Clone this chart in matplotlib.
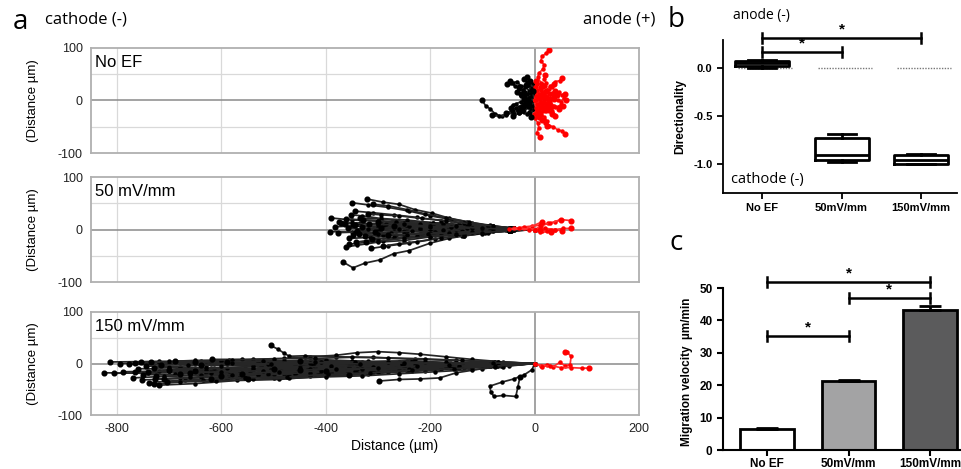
import matplotlib
matplotlib.use('Agg')
import matplotlib.pyplot as plt

plt.rcParams['font.family'] = ['Liberation Sans', 'DejaVu Sans']
plt.rcParams['axes.unicode_minus'] = False

# ---------------- panel a : cell tracks (x, y in um), start at origin ----------------
noef_black = [
    [(0, 0), (-8, -6), (-16, -4), (-22, -14), (-32, -18), (-40, -26), (-52, -24), (-62, -30), (-75, -26), (-85, -16), (-94, -10), (-100, 0)],
    [(0, 0), (-6, 2), (-12, -4), (-20, -6), (-30, -12), (-42, -18), (-55, -28), (-68, -30), (-81, -27)],
    [(0, 0), (-10, -10), (-18, -8), (-28, -16), (-36, -14), (-44, -20), (-55, -24)],
    [(0, 0), (-6, -14), (-12, -12), (-20, -22), (-30, -24), (-41, -30)],
    [(0, 0), (-8, -2), (-14, -8), (-20, -12), (-24, -19)],
    [(0, 0), (-8, 10), (-14, 8), (-22, 20), (-30, 22), (-38, 28), (-46, 34), (-52, 32)],
    [(0, 0), (-4, 14), (-10, 18), (-18, 26), (-26, 28), (-34, 36), (-42, 34), (-48, 38)],
    [(0, 0), (-6, 16), (-4, 22), (-10, 30), (-8, 38), (-14, 44)],
    [(0, 0), (-2, 12), (2, 18), (-5, 26), (-3, 32), (-8, 38)],
    [(0, 0), (-9, 12), (-6, 20), (-16, 29)],
    [(0, 0), (-6, 8), (-12, 6), (-20, 12), (-27, 13)],
    [(0, 0), (-10, -2), (-16, 6), (-20, 3)],
    [(0, 0), (-4, -6), (-8, -4), (-11, -10)],
    [(0, 0), (-6, -2), (-12, -6), (-18, -8), (-24, -13)],
    [(0, 0), (-6, 6), (-14, 12), (-18, 16), (-22, 20), (-30, 25)],
    [(0, 0), (-3, 10), (2, 14), (-4, 19)],
    [(0, 0), (-8, 4), (-10, -4), (-14, 0)],
    [(0, 0), (-6, -18), (-10, -22), (-15, -26), (-22, -20), (-30, -22)],
    [(0, 0), (-8, 2), (-18, -2), (-26, -2), (-35, -6), (-42, -8), (-46, -14)],
    [(0, 0), (-5, 22), (0, 26), (-12, 30), (-14, 36), (-20, 40)],
    [(0, 0), (-4, -10), (-2, -18), (-8, -24), (-6, -32)],
    [(0, 0), (-10, 4), (-18, 10), (-26, 8), (-34, 16)],
]
noef_red = [
    [(0, 0), (6, 18), (2, 26), (12, 34), (6, 44), (8, 52), (16, 60), (18, 68), (12, 76), (14, 84), (22, 90), (27, 97)],
    [(0, 0), (12, 10), (18, 12), (28, 22), (34, 26), (40, 36), (48, 38), (53, 43)],
    [(0, 0), (8, 6), (15, 2), (24, 10), (32, 8), (40, 14), (46, 16), (52, 10), (58, 13)],
    [(0, 0), (10, 2), (18, -4), (26, 2), (36, 4), (44, 0), (50, -2), (56, 4), (60, 0)],
    [(0, 0), (14, -6), (22, -2), (30, -4), (38, -10), (44, -12), (50, -8), (54, -10)],
    [(0, 0), (4, -18), (-2, -26), (0, -34), (6, -42), (8, -52), (4, -62), (11, -70)],
    [(0, 0), (10, -14), (12, -24), (18, -32), (24, -40), (28, -48), (36, -50), (44, -56), (52, -58), (59, -64)],
    [(0, 0), (10, 12), (16, 14), (24, 20), (30, 28), (37, 32)],
    [(0, 0), (8, 4), (16, 6), (22, 2), (30, 4), (36, 10), (43, 10)],
    [(0, 0), (8, -4), (14, -8), (22, -6), (32, -10), (40, -12), (46, -16)],
    [(0, 0), (12, -12), (16, -16), (22, -20), (28, -20), (34, -25)],
    [(0, 0), (6, -16), (4, -22), (10, -28), (12, -34), (15, -38)],
    [(0, 0), (10, -22), (12, -28), (18, -36), (20, -42), (24, -48)],
    [(0, 0), (8, 8), (10, 12), (14, 14), (18, 14), (21, 19)],
    [(0, 0), (4, 4), (6, 2), (8, 6)],
    [(0, 0), (6, 4), (12, 2), (16, -2), (20, -4), (27, -3)],
    [(0, 0), (10, 2), (18, 6), (24, 4), (30, 0), (37, 3)],
    [(0, 0), (6, -8), (10, -10), (12, -14), (18, -19)],
    [(0, 0), (4, 14), (6, 20), (1, 26), (4, 32), (2, 38)],
    [(0, 0), (6, 6), (14, 10), (20, 8), (28, 14), (34, 14), (40, 19)],
    [(0, 0), (10, -6), (16, -4), (22, -8), (26, -12), (31, -13)],
    [(0, 0), (2, -14), (6, -18), (6, -24), (4, -28), (8, -32)],
    [(0, 0), (8, 16), (12, 20), (16, 26), (20, 28), (22, 34), (18, 40), (20, 48)],
    [(0, 0), (10, -8), (20, -14), (26, -16), (34, -20), (36, -26), (40, -30)],
    [(0, 0), (6, 6), (10, 2), (14, -2), (18, 2), (20, 6)],
    [(0, 0), (4, -6), (10, -4), (14, -10), (20, -12), (24, -8)],
    [(0, 0), (2, 8), (8, 12), (12, 20), (10, 26), (14, 30)],
]

ef50_black = [
    [(0, 0), (-50, 0), (-100, 3), (-150, 2), (-200, 8), (-250, 10), (-300, 16), (-350, 18), (-390, 22)],
    [(0, 0), (-50, -2), (-100, 0), (-150, -3), (-200, -1), (-250, -4), (-300, -2), (-350, -5), (-392, -4)],
    [(0, 0), (-50, 2), (-100, 0), (-150, 4), (-200, 3), (-250, 6), (-300, 4), (-350, 7), (-383, 5)],
    [(0, 0), (-45, -1), (-95, -3), (-145, -2), (-195, -5), (-245, -4), (-295, -7), (-345, -5), (-377, -6)],
    [(0, 0), (-50, 1), (-100, 4), (-150, 5), (-200, 8), (-250, 9), (-300, 12), (-340, 11), (-371, 13)],
    [(0, 0), (-45, 2), (-95, 2), (-145, 6), (-195, 6), (-245, 9), (-295, 9), (-335, 12), (-364, 11)],
    [(0, 0), (-45, 3), (-95, 5), (-145, 10), (-195, 13), (-245, 18), (-295, 21), (-330, 26), (-352, 28)],
    [(0, 0), (-40, 2), (-80, 6), (-120, 12), (-160, 19), (-200, 26), (-240, 35), (-280, 42), (-320, 47), (-350, 51)],
    [(0, 0), (-40, 3), (-80, 6), (-130, 15), (-165, 22), (-196, 31), (-230, 38), (-260, 48), (-290, 52), (-321, 58)],
    [(0, 0), (-40, 2), (-85, 8), (-125, 14), (-170, 22), (-210, 30), (-245, 38), (-280, 45), (-310, 48)],
    [(0, 0), (-50, -3), (-100, -5), (-150, -11), (-200, -14), (-250, -21), (-300, -24), (-340, -30), (-361, -33)],
    [(0, 0), (-50, -2), (-100, -8), (-135, -12), (-164, -17), (-200, -26), (-240, -40), (-270, -46), (-297, -58), (-325, -64), (-348, -73), (-367, -62)],
    [(0, 0), (-45, -2), (-95, -7), (-140, -12), (-190, -18), (-240, -26), (-280, -31), (-313, -36)],
    [(0, 0), (-45, -3), (-90, -6), (-135, -12), (-180, -16), (-225, -23), (-260, -27), (-291, -32)],
    [(0, 0), (-50, -1), (-100, -5), (-150, -8), (-200, -13), (-250, -16), (-290, -21), (-323, -24)],
    [(0, 0), (-50, -2), (-100, -3), (-150, -8), (-200, -10), (-250, -15), (-300, -18), (-342, -24)],
    [(0, 0), (-55, 0), (-110, -4), (-160, -5), (-215, -9), (-265, -11), (-315, -15), (-355, -17)],
    [(0, 0), (-50, 1), (-100, -2), (-150, 0), (-200, -4), (-250, -3), (-300, -7), (-336, -8)],
    [(0, 0), (-50, 0), (-100, 4), (-150, 5), (-200, 10), (-250, 12), (-295, 16), (-329, 18)],
    [(0, 0), (-50, 2), (-100, 1), (-150, 5), (-200, 4), (-250, 7), (-300, 6), (-345, 8)],
    [(0, 0), (-50, -1), (-100, 1), (-150, -1), (-200, 1), (-250, -2), (-300, 0), (-340, -2)],
    [(0, 0), (-45, 1), (-95, 3), (-145, 2), (-195, 5), (-245, 3), (-290, 6), (-330, 5)],
    [(0, 0), (-55, 1), (-110, -1), (-165, 2), (-220, 0), (-270, 3), (-320, 1), (-358, 2)],
    [(0, 0), (-45, -2), (-95, -3), (-145, -6), (-195, -7), (-245, -10), (-290, -10), (-325, -12)],
    [(0, 0), (-45, 1), (-95, 4), (-145, 4), (-195, 7), (-245, 8), (-285, 10), (-318, 10)],
    [(0, 0), (-45, 0), (-95, -3), (-140, -2), (-190, -5), (-235, -3), (-275, -6), (-305, -5)],
    [(0, 0), (-50, -2), (-100, -2), (-150, -6), (-200, -6), (-250, -9), (-300, -8), (-348, -10)],
    [(0, 0), (-45, 2), (-95, 5), (-145, 8), (-195, 13), (-245, 15), (-295, 20), (-335, 22)],
    [(0, 0), (-50, 1), (-100, 5), (-150, 7), (-200, 11), (-250, 13), (-300, 17), (-362, 20)],
    [(0, 0), (-40, 2), (-85, 5), (-130, 6), (-175, 10), (-220, 11), (-265, 14), (-300, 15)],
    [(0, 0), (-45, -3), (-90, -4), (-135, -8), (-180, -10), (-225, -13), (-270, -15), (-312, -18)],
    [(0, 0), (-40, 1), (-85, -1), (-130, 2), (-175, 0), (-220, 3), (-260, 1), (-295, 2)],
    [(0, 0), (-40, -1), (-80, -3), (-120, -4), (-165, -7), (-205, -8), (-245, -10), (-280, -10)],
    [(0, 0), (-40, 0), (-80, 3), (-120, 2), (-160, 5), (-200, 4), (-240, 7), (-270, 6)],
    [(0, 0), (-45, 3), (-90, 6), (-135, 12), (-180, 17), (-225, 23), (-270, 28), (-310, 32), (-345, 35)],
    [(0, 0), (-40, 2), (-80, 7), (-125, 11), (-170, 17), (-215, 21), (-260, 26), (-295, 28), (-320, 30)],
    [(0, 0), (-50, -2), (-100, -6), (-150, -9), (-200, -14), (-250, -17), (-300, -22), (-355, -28)],
    [(0, 0), (-50, 1), (-100, 2), (-150, 6), (-200, 6), (-250, 10), (-300, 9), (-350, 13), (-375, 15)],
]
ef50_red = [
    [(0, 0), (12, 6), (25, 12), (40, 14), (50, 19), (69, 17)],
    [(0, 0), (-20, 3), (-5, 6), (15, 15)],
    [(0, 0), (-40, 2), (-20, 5), (10, 8), (30, 12), (50, 19)],
    [(0, 0), (15, -2), (31, -3)],
    [(0, 0), (20, -1), (40, 0), (53, -3)],
    [(0, 0), (20, 2), (40, 0), (55, 2), (69, 2)],
    [(0, 0), (-50, 1), (-30, 3), (-10, 0), (11, 0)],
    [(0, 0), (10, -4), (24, -3), (31, -5)],
]

ef150_black = [
    [(0, 0), (-90, -3), (-180, -1), (-270, -4), (-360, -1), (-450, 1), (-540, -1), (-630, 3), (-720, 4), (-814, 3)],
    [(0, 0), (-95, -5), (-190, -7), (-290, -11), (-380, -10), (-480, -14), (-570, -13), (-660, -17), (-750, -19), (-826, -18)],
    [(0, 0), (-90, -2), (-185, -8), (-280, -7), (-375, -12), (-470, -11), (-565, -15), (-650, -14), (-740, -18), (-806, -19)],
    [(0, 0), (-85, -4), (-175, -1), (-265, -5), (-360, -2), (-450, -4), (-540, 0), (-630, -2), (-720, 1), (-795, 0)],
    [(0, 0), (-90, 0), (-180, -4), (-275, -2), (-370, -5), (-460, -2), (-555, -4), (-650, 0), (-715, -3), (-778, -1)],
    [(0, 0), (-80, -2), (-170, 1), (-260, -3), (-350, 0), (-440, -2), (-530, 2), (-620, 0), (-700, 3), (-766, 1)],
    [(0, 0), (-88, -2), (-180, -6), (-270, -5), (-360, -9), (-455, -8), (-545, -12), (-640, -11), (-720, -15), (-789, -16)],
    [(0, 0), (-85, -4), (-170, -4), (-260, -9), (-350, -8), (-440, -12), (-530, -11), (-620, -15), (-700, -14), (-766, -17)],
    [(0, 0), (-80, -3), (-165, -7), (-255, -8), (-345, -12), (-435, -13), (-520, -17), (-610, -17), (-690, -21), (-750, -22)],
    [(0, 0), (-75, -6), (-160, -9), (-245, -15), (-330, -17), (-420, -23), (-505, -25), (-590, -31), (-670, -32), (-738, -37)],
    [(0, 0), (-70, -4), (-150, -11), (-235, -14), (-320, -21), (-400, -24), (-490, -31), (-570, -33), (-650, -39), (-719, -42)],
    [(0, 0), (-78, -5), (-160, -8), (-245, -13), (-330, -16), (-420, -20), (-510, -22), (-600, -27), (-680, -29), (-753, -32)],
    [(0, 0), (-85, -1), (-175, -5), (-265, -5), (-355, -9), (-450, -9), (-540, -12), (-630, -12), (-700, -15), (-741, -16)],
    [(0, 0), (-80, -3), (-165, -2), (-255, -6), (-345, -4), (-435, -7), (-525, -5), (-615, -9), (-680, -7), (-730, -8)],
    [(0, 0), (-88, 0), (-175, -3), (-265, -1), (-355, -4), (-445, -2), (-540, -5), (-630, -3), (-700, -6), (-745, -5)],
    [(0, 0), (-78, -2), (-160, -7), (-245, -8), (-330, -13), (-415, -14), (-500, -18), (-590, -19), (-660, -23), (-725, -25)],
    [(0, 0), (-72, -5), (-150, -7), (-230, -12), (-315, -14), (-400, -19), (-480, -21), (-565, -25), (-640, -27), (-710, -30)],
    [(0, 0), (-80, 0), (-165, -4), (-250, -3), (-335, -7), (-420, -6), (-505, -10), (-590, -9), (-650, -12), (-700, -12)],
    [(0, 0), (-78, 3), (-160, 1), (-245, 5), (-330, 3), (-415, 7), (-500, 4), (-585, 7), (-640, 4), (-690, 5)],
    [(0, 0), (-75, -3), (-155, -4), (-235, -9), (-320, -10), (-400, -14), (-485, -15), (-565, -19), (-630, -18), (-680, -20)],
    [(0, 0), (-85, -1), (-175, -4), (-265, -3), (-355, -7), (-450, -6), (-540, -9), (-630, -8), (-700, -11), (-760, -10)],
    [(0, 0), (-82, 2), (-170, 0), (-260, 3), (-350, 1), (-440, 4), (-530, 2), (-620, 4), (-690, 2), (-735, 3)],
    [(0, 0), (-80, -2), (-165, 1), (-250, -2), (-340, 0), (-425, -3), (-510, -1), (-600, -4), (-665, -2), (-715, -3)],
    [(0, 0), (-70, -3), (-145, -9), (-225, -11), (-310, -17), (-390, -19), (-470, -25), (-555, -27), (-635, -32), (-705, -35)],
    [(0, 0), (-90, -4), (-180, -6), (-270, -11), (-360, -12), (-455, -17), (-545, -18), (-640, -23), (-710, -25), (-770, -28)],
    [(0, 0), (-78, -2), (-160, -7), (-245, -9), (-330, -14), (-415, -16), (-500, -21), (-585, -22), (-660, -27), (-728, -30)],
    [(0, 0), (-60, 3), (-120, 8), (-170, 13), (-220, 18), (-260, 21), (-300, 23), (-340, 21), (-380, 16), (-430, 13), (-480, 10), (-540, 8), (-600, 4), (-650, 2)],
    [(0, 0), (-75, 3), (-155, 1), (-235, 5), (-320, 4), (-400, 7), (-480, 5), (-560, 8), (-619, 8)],
    [(0, 0), (-65, -5), (-135, -8), (-210, -14), (-280, -17), (-355, -22), (-430, -24), (-500, -29), (-550, -31)],
    [(0, 0), (-60, -3), (-120, -8), (-180, -10), (-240, -15), (-300, -17), (-356, -22)],
    [(0, 0), (-70, 2), (-150, 6), (-230, 8), (-310, 12), (-380, 13), (-440, 15), (-470, 14), (-480, 20), (-492, 28), (-506, 35)],
    [(0, 0), (-50, -4), (-100, -10), (-150, -18), (-182, -28), (-220, -30), (-260, -31), (-298, -34)],
    [(0, 0), (-5, -12), (-20, -22), (-40, -30), (-62, -36), (-86, -44), (-84, -55), (-78, -64), (-60, -62), (-36, -64), (-32, -45), (-28, -26)],
    [(0, 0), (-70, -1), (-150, -4), (-230, -2), (-310, -6), (-390, -4), (-450, -8), (-500, -10)],
    [(0, 0), (-65, -3), (-140, -5), (-210, -9), (-280, -10), (-340, -14), (-400, -15)],
    [(0, 0), (-75, -2), (-150, -7), (-230, -9), (-310, -14), (-390, -16), (-460, -20), (-530, -22), (-600, -25)],
    [(0, 0), (-65, 1), (-140, -1), (-210, 3), (-280, 2), (-350, 5), (-410, 3), (-450, 5)],
    [(0, 0), (-85, -4), (-170, -7), (-260, -12), (-345, -14), (-430, -18), (-510, -20), (-580, -22), (-620, -18), (-650, -15)],
    [(0, 0), (-60, -6), (-120, -12), (-190, -16), (-260, -20), (-330, -24), (-400, -26), (-470, -29), (-540, -31), (-610, -34), (-680, -36), (-730, -40)],
    [(0, 0), (-70, 3), (-140, 6), (-210, 9), (-280, 11), (-350, 12), (-420, 10), (-500, 9), (-580, 7), (-650, 6), (-700, 4), (-755, 3)],
    [(0, 0), (-80, -3), (-160, -6), (-250, -6), (-340, -10), (-430, -11), (-520, -14), (-600, -16), (-660, -18)],
    [(0, 0), (-85, -1), (-170, 2), (-255, 0), (-345, 3), (-430, 1), (-520, 4), (-590, 2)],
    [(0, 0), (-75, -4), (-160, -5), (-240, -10), (-330, -11), (-410, -15), (-490, -16), (-560, -20)],
    [(0, 0), (-70, -2), (-145, -5), (-225, -5), (-300, -9), (-380, -10), (-450, -13)],
    [(0, 0), (-80, 1), (-165, -2), (-250, 1), (-335, -1), (-420, 2), (-505, -1), (-580, 1), (-640, -2)],
    [(0, 0), (-75, -5), (-155, -10), (-235, -13), (-315, -18), (-395, -21), (-475, -26), (-555, -28), (-620, -30)],
]
ef150_red = [
    [(0, 0), (12, -4), (24, -2), (36, -6), (48, 2), (58, -4), (68, -2), (70, 14), (62, 22), (58, 22)],
    [(0, 0), (14, -6), (30, -4), (50, -8), (70, -8), (90, -9), (104, -9)],
]

panel_names = ['No EF', '50 mV/mm', '150 mV/mm']

# ---------------- panel b : directionality box plots ----------------
groups = ['No EF', '50mV/mm', '150mV/mm']
dir_whislo = [0.00, -0.98, -1.00]
dir_q1 = [0.02, -0.96, -1.00]
dir_med = [0.05, -0.91, -0.96]
dir_q3 = [0.07, -0.73, -0.91]
dir_whishi = [0.08, -0.69, -0.89]

# ---------------- panel c : migration velocity ----------------
velocity = [6.5, 21.3, 43.2]
velocity_err = [0.3, 0.4, 1.3]
bar_colors = ['white', '#a3a3a4', '#5b5b5c']

fig = plt.figure(figsize=(9.61, 4.69), dpi=100)
W, H = 961.0, 469.0


def px_axes(left, top, right, bottom):
    return fig.add_axes([left / W, 1 - bottom / H, (right - left) / W, (bottom - top) / H])


def draw_tracks(ax, tracks, line_col, dot_col):
    for t in tracks:
        xs = [p[0] for p in t]
        ys = [p[1] for p in t]
        ax.plot(xs, ys, color=line_col, lw=1.25, marker='o', ms=2.2,
                mfc=dot_col, mec=dot_col, zorder=3)
        ax.plot(xs[-1], ys[-1], 'o', color=dot_col, ms=3.4, zorder=4)


a_boxes = [(48, 153), (177, 282), (312, 415)]
a_tracks = [(noef_black, noef_red), (ef50_black, ef50_red), (ef150_black, ef150_red)]
for i, ((top, bot), (blk, red)) in enumerate(zip(a_boxes, a_tracks)):
    ax = px_axes(91, top, 639, bot)
    ax.set_xlim(-850, 190)
    ax.set_ylim(-100, 100)
    for gx in [-800, -600, -400, -200]:
        ax.axvline(gx, color='#d9d9d9', lw=0.9, zorder=1)
    for gy in [-50, 50]:
        ax.axhline(gy, color='#d9d9d9', lw=0.9, zorder=1)
    ax.axvline(0, color='#8a8a8a', lw=1.1, zorder=2)
    ax.axhline(0, color='#8a8a8a', lw=1.1, zorder=2)
    draw_tracks(ax, blk, '#262626', 'black')
    draw_tracks(ax, red, '#ff3030', 'red')
    for s in ax.spines.values():
        s.set_color('#b0b0b0')
        s.set_linewidth(1.3)
    ax.set_yticks([-100, 0, 100])
    ax.set_xticks([-800, -600, -400, -200, 0, 200])
    ax.tick_params(length=0, labelsize=9, colors='#222222', pad=6)
    if i < 2:
        ax.tick_params(labelbottom=False)
    ax.set_ylabel('(Distance µm)', fontsize=9.5)
    ax.yaxis.set_label_coords(-0.095, 0.5)
    ax.text(0.008, 0.93, panel_names[i], transform=ax.transAxes, fontsize=12,
            ha='left', va='top')

fig.text(395 / W, 1 - 446 / H, 'Distance (µm)', fontsize=10, ha='center', va='center')
fig.text(20 / W, 1 - 22 / H, 'a', fontsize=20, family='Open Sans', ha='center', va='center')
fig.text(45 / W, 1 - 20 / H, 'cathode (-)', fontsize=12, family='Open Sans', ha='left', va='center')
fig.text(655 / W, 1 - 20 / H, 'anode (+)', fontsize=12, family='Open Sans', ha='right', va='center')

# ---------------- panel b ----------------
axb = px_axes(723, 40, 957, 193)
stats = []
for i in range(3):
    stats.append({'whislo': dir_whislo[i], 'q1': dir_q1[i], 'med': dir_med[i],
                  'q3': dir_q3[i], 'whishi': dir_whishi[i], 'fliers': []})
lw_box = 2.0
axb.bxp(stats, positions=[0, 1, 2], widths=0.68, showfliers=False,
        boxprops=dict(lw=lw_box), medianprops=dict(color='black', lw=lw_box),
        whiskerprops=dict(lw=lw_box), capprops=dict(lw=lw_box), capwidths=0.35)
for i in range(3):
    axb.plot([i - 0.3, i + 0.38], [0, 0], color='#777777', lw=1.0, ls=(0, (1, 1)), zorder=1)
axb.set_xlim(-0.49, 2.45)
axb.set_ylim(-1.3, 0.29)
axb.set_yticks([0.0, -0.5, -1.0])
axb.set_yticklabels(['0.0', '-0.5', '-1.0'])
axb.set_xticks([0, 1, 2])
axb.set_xticklabels(groups)
for s in ['top', 'right']:
    axb.spines[s].set_visible(False)
for s in ['left', 'bottom']:
    axb.spines[s].set_linewidth(1.3)
axb.tick_params(direction='out', length=4, width=1.3, labelsize=8)
for lab in axb.get_xticklabels() + axb.get_yticklabels():
    lab.set_fontweight('bold')
axb.set_ylabel('Directionality', fontsize=8.5, fontweight='bold')
axb.yaxis.set_label_coords(-0.155, 0.5)


def sig_bar(ax, x0, x1, y, cap, star_dy, fs):
    ax.plot([x0, x1], [y, y], color='black', lw=1.8, clip_on=False)
    ax.plot([x0, x0], [y - cap, y + cap], color='black', lw=1.8, clip_on=False)
    ax.plot([x1, x1], [y - cap, y + cap], color='black', lw=1.8, clip_on=False)
    ax.text((x0 + x1) / 2, y + star_dy, '*', ha='center', va='center', fontsize=fs,
            fontweight='bold', clip_on=False)


sig_bar(axb, 0, 1, 0.167, 0.05, 0.085, 11)
sig_bar(axb, 0, 2, 0.31, 0.05, 0.085, 11)
fig.text(733 / W, 1 - 15 / H, 'anode (-)', fontsize=10, family='Open Sans', ha='left', va='center')
fig.text(731 / W, 1 - 180 / H, 'cathode (-)', fontsize=10.5, family='Open Sans', ha='left', va='center')
fig.text(676 / W, 1 - 20 / H, 'b', fontsize=20, family='Open Sans', ha='center', va='center')

# ---------------- panel c ----------------
axc = px_axes(723, 288, 961, 450)
axc.bar([0, 1, 2], velocity, width=0.66, color=bar_colors, edgecolor='black', lw=2.0,
        yerr=[[0, 0, 0], velocity_err], capsize=8,
        error_kw=dict(lw=2.0, capthick=2.0, ecolor='black'))
axc.set_xlim(-0.54, 2.38)
axc.set_ylim(0, 50)
axc.set_yticks([0, 10, 20, 30, 40, 50])
axc.set_xticks([0, 1, 2])
axc.set_xticklabels(groups)
for s in ['top', 'right']:
    axc.spines[s].set_visible(False)
for s in ['left', 'bottom']:
    axc.spines[s].set_linewidth(1.5)
axc.tick_params(direction='out', length=4, width=1.5, labelsize=8.5)
axc.tick_params(axis='x', pad=1.5)
for lab in axc.get_xticklabels() + axc.get_yticklabels():
    lab.set_fontweight('bold')
axc.set_ylabel('Migration velocity  µm/min', fontsize=8.5, fontweight='bold')
axc.yaxis.set_label_coords(-0.125, 0.48)
sig_bar(axc, 0, 1, 35.2, 1.5, 2.6, 11)
sig_bar(axc, 0, 2, 51.9, 1.5, 2.6, 11)
sig_bar(axc, 1, 2, 46.9, 1.5, 2.6, 11)
fig.text(676 / W, 1 - 243 / H, 'c', fontsize=20, family='Open Sans', ha='center', va='center')

fig.savefig('out.png', dpi=100)
